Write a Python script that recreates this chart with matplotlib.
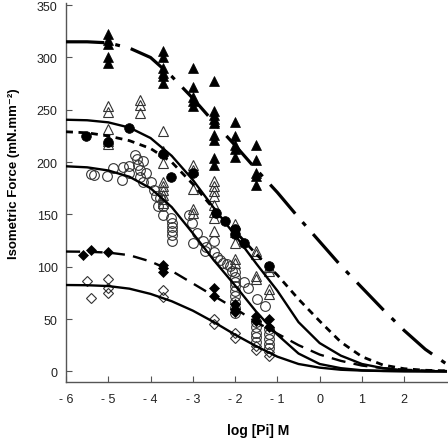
import matplotlib
matplotlib.use("Agg")
matplotlib.rcdefaults()
import matplotlib.pyplot as plt

plt.rcParams['font.family'] = ['Liberation Sans', 'DejaVu Sans']

# ---- fitted curves ----
curve_x = [-6, -5.5, -5, -4.5, -4, -3.5, -3, -2.5, -2, -1.5, -1, -0.5, 0, 0.5, 1, 1.5, 2, 2.5, 3]
fit_dashdot = [315, 315, 314, 309, 300, 282, 261, 238, 216, 193, 171, 147, 124, 101, 80, 59, 39, 21, 7]
fit_solid_top = [240.5, 240, 238, 233, 223, 206, 183, 156, 130, 103, 77, 47, 27, 15, 7, 3, 1, 0.3, 0]
fit_dotted = [229, 228, 225, 220.5, 213, 200, 179, 155, 134, 112, 92, 69, 48, 28, 14, 6, 2.5, 1, 0.5]
fit_solid_mid = [196, 195, 192, 186, 175, 157, 132, 106, 82, 57, 35, 17, 7, 3, 1, 0.4, 0.1, 0, 0]
fit_dashed = [114.5, 114.3, 113.5, 111, 105, 96, 84, 72, 60, 47, 36, 25, 16, 10, 5.5, 3, 1.5, 0.7, 0.3]
fit_solid_low = [82.5, 82.3, 81.5, 79, 74, 67, 58, 47, 35, 24, 14, 7, 3.5, 1.5, 0.7, 0.3, 0.1, 0, 0]

# ---- data points ----
ftri_x = [-5]*5 + [-3.7]*6 + [-3.0]*5 + [-2.5]*9 + [-2.0]*5 + [-1.5]*5
ftri_y = [322, 317, 313, 300, 295,
          306, 300, 290, 285, 282, 276,
          290, 272, 262, 258, 254,
          278, 249, 245, 241, 237, 226, 221, 204, 197,
          238, 225, 216, 213, 205,
          216, 202, 190, 187, 178]

otri_x = [-5]*6 + [-4.25]*3 + [-3.7]*9 + [-3.0]*5 + [-2.5]*8 + [-2.0]*5 + [-1.5]*4 + [-1.2]*4
otri_y = [254, 248, 232, 222, 220, 217,
          259, 255, 247,
          230, 211, 199, 181, 177, 173, 169, 165, 161,
          197, 192, 174, 155, 151,
          182, 177, 172, 168, 159, 152, 147, 134,
          141, 133, 123, 107, 104,
          115, 112, 91, 88,
          100, 96, 79, 74]

fcir_x = [-5.53, -5.0, -4.52, -3.7, -3.51, -3.0, -2.45, -2.24, -2.0, -2.0, -1.8, -1.21]
fcir_y = [225, 219, 233, 208, 186, 190, 151, 144, 136, 131, 123, 101]

ocir_x = [-5.42, -5.33, -5.04, -4.9, -4.68, -4.64, -4.52, -4.52, -4.37, -4.33, -4.3, -4.25,
          -4.17, -4.11, -4.25, -4.17, -4.0, -3.93, -3.86, -3.78, -3.82, -3.71, -3.7,
          -3.51, -3.5, -3.5, -3.5, -3.5, -3.5, -3.1, -3.03, -2.91, -3.0, -2.77, -2.69,
          -2.51, -2.71, -2.51, -2.43, -2.36, -2.28, -2.2, -2.12, -2.08,
          -2.0, -2.0, -2.0, -2.0, -2.0, -2.0, -2.0, -2.0, -2.0,
          -1.8, -1.69, -1.49, -1.29,
          -1.5, -1.5, -1.5, -1.5, -1.5,
          -1.21, -1.21, -1.21, -1.21, -1.21]
ocir_y = [189, 188, 187, 194, 183, 195, 190, 196, 207, 203, 197, 192,
          201, 190, 185.5, 181, 181, 173, 168, 166, 158, 158, 149,
          147, 142, 138, 134, 130, 125, 149, 142, 132, 123, 125, 118.5,
          125, 115, 114, 109, 106, 104, 102.6, 101, 96,
          95, 90, 85, 82, 77, 72, 66, 61, 56,
          85, 80, 69, 62.7,
          47, 42, 37, 33, 28,
          40, 36, 31, 26, 22]

fdia_x = [-5.6, -5.4, -5.0, -3.7, -3.7, -3.7, -2.5, -2.5, -2.0, -2.0, -2.0, -1.5, -1.5, -1.2, -1.2]
fdia_y = [111, 116, 114, 102, 98.5, 95, 80, 72, 64, 60, 57, 53, 48.5, 50, 42]

odia_x = [-5.5, -5.4, -5.0, -5.0, -5.0, -3.7, -3.7, -2.5, -2.5, -2.0, -2.0, -1.5, -1.5, -1.2, -1.2]
odia_y = [86, 70, 88, 80, 75, 78, 71, 50, 45, 37, 32, 24.5, 20, 18, 15]

xticks = [-6, -5, -4, -3, -2, -1, 0, 1, 2]
yticks = [0, 50, 100, 150, 200, 250, 300, 350]

fig = plt.figure(figsize=(4.48, 4.39), dpi=100)
ax_w = 446.5 - 66
ax_h = 383.3 - 4.1
ax = fig.add_axes([66/448, 1 - 383.3/439, ax_w/448, ax_h/439])

ms = 6.5
mew = 0.8
ax.plot(ocir_x, ocir_y, 'o', ms=ms+0.5, mfc='none', mec='#333333', mew=mew, zorder=3)
ax.plot(otri_x, otri_y, '^', ms=ms, mfc='none', mec='#333333', mew=mew, zorder=3)
ax.plot(odia_x, odia_y, 'D', ms=ms-1.5, mfc='none', mec='#333333', mew=mew, zorder=3)
ax.plot(ftri_x, ftri_y, '^', ms=ms, mfc='black', mec='black', mew=0.5, zorder=4)
ax.plot(fcir_x, fcir_y, 'o', ms=ms+0.5, mfc='black', mec='black', mew=0.5, zorder=4)
ax.plot(fdia_x, fdia_y, 'D', ms=ms-1.5, mfc='black', mec='black', mew=0.5, zorder=4)

lw = 1.7
ax.plot(curve_x, fit_dashdot, color='black', lw=2.3, dashes=(12, 3.5, 1.5, 3.5), zorder=5)
ax.plot(curve_x, fit_solid_top, color='black', lw=lw, zorder=5)
ax.plot(curve_x, fit_dotted, color='black', lw=2.0, dashes=(2.5, 2.0), zorder=5)
ax.plot(curve_x, fit_solid_mid, color='black', lw=lw, zorder=5)
ax.plot(curve_x, fit_dashed, color='black', lw=lw, dashes=(6, 3.5), zorder=5)
ax.plot(curve_x, fit_solid_low, color='black', lw=lw, zorder=5)

ax.set_xlim(-6, 3.0)
ax.set_ylim(-10.5, 352)
ax.set_xticks(xticks)
ax.set_yticks(yticks)
ax.set_xticklabels([str(t) if t >= 0 else '- ' + str(-t) for t in xticks])
ax.set_yticklabels([str(t) for t in yticks], rotation=0)
for s in ['top', 'right']:
    ax.spines[s].set_visible(False)
for s in ['left', 'bottom']:
    ax.spines[s].set_color('#555555')
    ax.spines[s].set_linewidth(1.0)
ax.tick_params(direction='in', length=4, width=0.8, color='#555555', labelsize=9, labelcolor='#222222')
ax.tick_params(axis='x', pad=8)
ax.tick_params(axis='y', pad=6, labelrotation=0)

fig.text(258 / 448, 1 - 431 / 439, 'log [Pi] M', ha='center', va='center',
         fontsize=10, fontweight='bold')
fig.text(14 / 448, 1 - 174 / 439, 'Isometric Force (mN.mm\u207b\u00b2)', ha='center', va='center',
         rotation=90, rotation_mode='default', fontsize=9.5, fontweight='bold',
         family=['Liberation Sans', 'DejaVu Sans'])

fig.savefig('out.png', dpi=100)
